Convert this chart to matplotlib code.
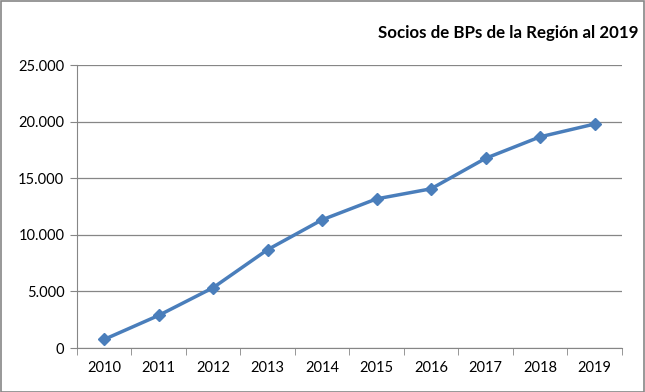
import matplotlib.pyplot as plt
from matplotlib.ticker import FuncFormatter, FixedLocator

years = ["2010", "2011", "2012", "2013", "2014", "2015", "2016", "2017", "2018", "2019"]
socios = [760, 2880, 5330, 8690, 11330, 13180, 14070, 16760, 18660, 19790]
y_ticks = [0, 5000, 10000, 15000, 20000, 25000]

plt.rcParams["font.family"] = ["Lato", "DejaVu Sans"]

fig = plt.figure(figsize=(6.45, 3.92), dpi=100)
ax = fig.add_axes([0.119, 0.112, 0.845, 0.722])

x = list(range(len(years)))
ax.plot(x, socios, color="#4a7ebb", linewidth=2.5, marker="D", markersize=6,
        markerfacecolor="#4a7ebb", markeredgecolor="#4a7ebb", zorder=3)

# Axis ranges and ticks
ax.set_xlim(-0.5, len(years) - 0.5)
ax.set_ylim(0, 25000)
ax.set_yticks(y_ticks)
ax.yaxis.set_major_formatter(FuncFormatter(lambda v, p: f"{int(v):,}".replace(",", ".")))
ax.set_xticks(x)
ax.set_xticklabels(years)
ax.xaxis.set_minor_locator(FixedLocator([i - 0.5 for i in range(len(years) + 1)]))

ax.tick_params(axis="x", which="major", length=0, labelsize=10.5, pad=9)
ax.tick_params(axis="x", which="minor", length=5, color="#868686")
ax.tick_params(axis="y", length=5, color="#868686", labelsize=10.5, pad=4)

ax.grid(axis="y", color="#868686", linewidth=0.9)
ax.set_axisbelow(True)
for side in ["top", "right"]:
    ax.spines[side].set_visible(False)
for side in ["left", "bottom"]:
    ax.spines[side].set_color("#868686")

fig.text(0.99, 0.915, "Socios de BPs de la Región al 2019", ha="right", va="center",
         fontsize=12.2, fontweight="bold")

# Outer frame
fig.patches.append(plt.Rectangle((0.001, 0.001), 0.997, 0.997, transform=fig.transFigure,
                                 fill=False, edgecolor="#868686", linewidth=1.2))

plt.savefig("out.png", dpi=100)
